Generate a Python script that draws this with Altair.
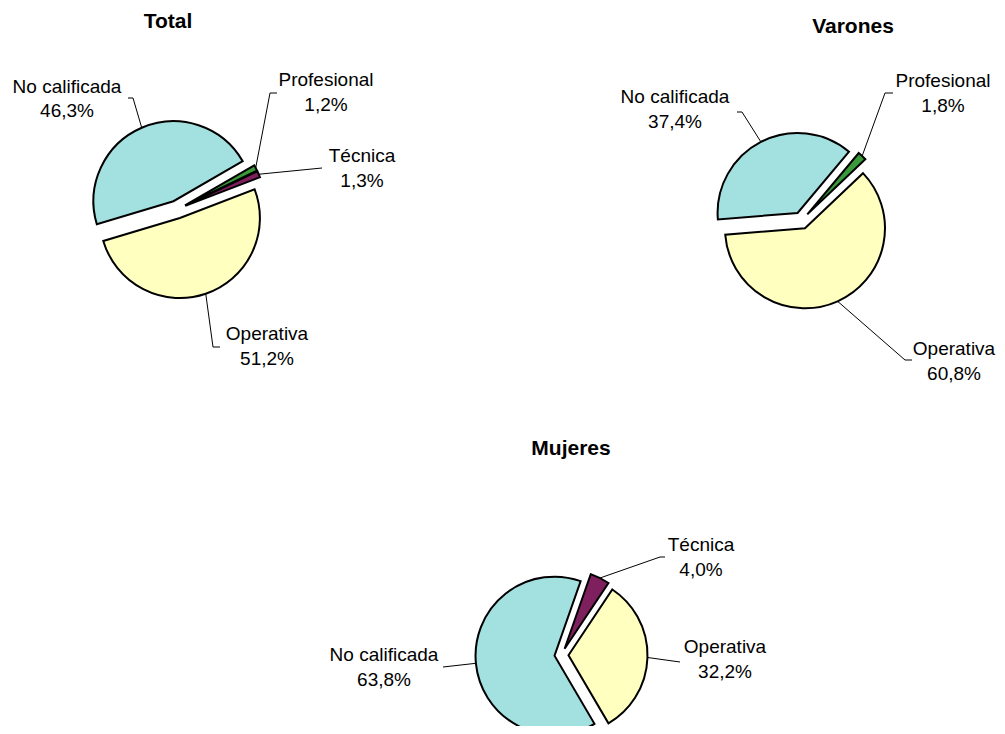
import math
import altair as alt
import pandas as pd

# ---------------- data ----------------
categories = ["Profesional", "Técnica", "Operativa", "No calificada"]
panels = ["Total", "Varones", "Mujeres"]
total_pct = [1.2, 1.3, 51.2, 46.3]
varones_pct = [1.8, 0.0, 60.8, 37.4]
mujeres_pct = [0.0, 4.0, 32.2, 63.8]
values_by_panel = {"Total": total_pct, "Varones": varones_pct, "Mujeres": mujeres_pct}

# ---------------- styles / layout ----------------
colors = ["#3A9A3A", "#7E1F5E", "#FFFFC0", "#A3E0E0"]
FONT = "Liberation Sans, Arial, Helvetica, sans-serif"
W, H = 989, 718
M = 8  # page margin: layout below is in page pixels

pie_layout = {
    "Total":   dict(cx=177.0, cy=209.5, r=80, explode=9.0, start=60.0, tx=168, ty=28),
    "Varones": dict(cx=801.5, cy=220.5, r=80, explode=8.5, start=40.0, tx=853, ty=32.5),
    "Mujeres": dict(cx=561.5, cy=655.0, r=79, explode=7.0, start=19.3, tx=571, ty=455),
}
# label anchor (centre x, first baseline y), leader elbow and leader end
label_layout = {
    ("Total", "No calificada"):   dict(lx=67,  ly=92.5, elbow=(133, 98),  end=(128, 98)),
    ("Total", "Profesional"):     dict(lx=326, ly=86,   elbow=(270, 93),  end=(277, 93)),
    ("Total", "Técnica"):         dict(lx=362, ly=162,  elbow=(322, 168), end=(322, 168)),
    ("Total", "Operativa"):       dict(lx=267, ly=340,  elbow=(213, 347), end=(220, 347)),
    ("Varones", "No calificada"): dict(lx=675, ly=103,  elbow=(742, 112), end=(737, 112)),
    ("Varones", "Profesional"):   dict(lx=943, ly=87,   elbow=(885, 93),  end=(893, 93)),
    ("Varones", "Operativa"):     dict(lx=954, ly=355,  elbow=(905, 360), end=(912, 360)),
    ("Mujeres", "Técnica"):       dict(lx=701, ly=551,  elbow=(660, 557), end=(665, 557)),
    ("Mujeres", "Operativa"):     dict(lx=725, ly=653,  elbow=(680, 662), end=(680, 662)),
    ("Mujeres", "No calificada"): dict(lx=384, ly=661,  elbow=(443, 667), end=(443, 667)),
}

# ---------------- build tables from the data ----------------
slices, labels, leaders, titles = [], [], [], []
for p in panels:
    L = pie_layout[p]
    titles.append(dict(panel=p, x=L["tx"], y=L["ty"], text=p))
    cum = 0.0
    for cat, v in zip(categories, values_by_panel[p]):
        if v <= 0:
            continue
        a0 = math.radians(L["start"] + cum * 3.6)
        a1 = math.radians(L["start"] + (cum + v) * 3.6)
        cum += v
        mid = (a0 + a1) / 2
        sx = L["cx"] + L["explode"] * math.sin(mid)
        sy = L["cy"] - L["explode"] * math.cos(mid)
        slices.append(dict(panel=p, category=cat, value=v, sx=sx, sy=sy,
                           t0=a0, t1=a1, r=L["r"]))
        ll = label_layout[(p, cat)]
        txt = f"{cat}\n{v:.1f}%".replace(".", ",")
        labels.append(dict(panel=p, category=cat, x=ll["lx"], y=ll["ly"], text=txt))
        ax = sx + L["r"] * math.sin(mid)
        ay = sy - L["r"] * math.cos(mid)
        key = f"{p}-{cat}"
        for i, (px, py) in enumerate([(ax, ay), ll["elbow"], ll["end"]]):
            leaders.append(dict(key=key, i=i, x=px, y=py))

slices_df = pd.DataFrame(slices)
labels_df = pd.DataFrame(labels)
leaders_df = pd.DataFrame(leaders)
titles_df = pd.DataFrame(titles)

xs = alt.Scale(domain=[M, M + W], range=[0, W], nice=False, zero=False)
ys = alt.Scale(domain=[M, M + H], range=[0, H], nice=False, zero=False)

pies = alt.Chart(slices_df).mark_arc(stroke="black", strokeWidth=2, strokeJoin="miter").encode(
    x=alt.X("sx:Q", scale=xs, axis=None),
    y=alt.Y("sy:Q", scale=ys, axis=None),
    theta=alt.Theta("t0:Q", scale=None),
    theta2="t1:Q",
    radius=alt.Radius("r:Q", scale=None),
    color=alt.Color("category:N", scale=alt.Scale(domain=categories, range=colors), legend=None),
)

lead = alt.Chart(leaders_df).mark_line(color="black", strokeWidth=1).encode(
    x=alt.X("x:Q", scale=xs, axis=None),
    y=alt.Y("y:Q", scale=ys, axis=None),
    detail="key:N",
    order="i:Q",
)

lab = alt.Chart(labels_df).mark_text(
    font=FONT, fontSize=19, color="black", align="center", baseline="alphabetic",
    lineBreak="\n", lineHeight=24.5,
).encode(
    x=alt.X("x:Q", scale=xs, axis=None),
    y=alt.Y("y:Q", scale=ys, axis=None),
    text="text:N",
)

tit = alt.Chart(titles_df).mark_text(
    font=FONT, fontSize=21, fontWeight="bold", color="black", align="center", baseline="alphabetic",
).encode(
    x=alt.X("x:Q", scale=xs, axis=None),
    y=alt.Y("y:Q", scale=ys, axis=None),
    text="text:N",
)

chart = alt.layer(lead, pies, lab, tit).properties(
    width=W, height=H, padding=0,
    autosize=alt.AutoSizeParams(type="none"),
).configure_view(stroke=None)

chart.save("out.html", embed_options={"renderer": "svg", "actions": False})
